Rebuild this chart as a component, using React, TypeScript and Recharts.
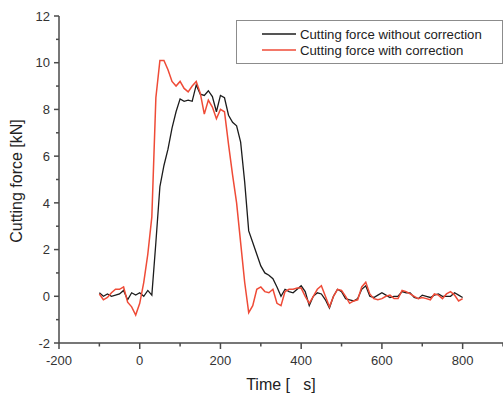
import { LineChart, Line, XAxis, YAxis, Legend, Label } from "recharts";

// time in s, force in kN
const time = [
  -100, -90, -80, -70, -60, -50, -40, -30, -20, -10, 0, 10, 20, 30, 40, 50, 60, 70, 80, 90,
  100, 110, 120, 130, 140, 150, 160, 170, 180, 190, 200, 210, 220, 230, 240, 250, 260, 270, 280, 290,
  300, 310, 320, 330, 340, 350, 360, 370, 380, 390, 400, 410, 420, 430, 440, 450, 460, 470, 480, 490,
  500, 510, 520, 530, 540, 550, 560, 570, 580, 590, 600, 610, 620, 630, 640, 650, 660, 670, 680, 690,
  700, 710, 720, 730, 740, 750, 760, 770, 780, 790, 800,
];

const withoutCorrection = [
  0.15, 0.0, 0.1, 0.0, 0.05, 0.1, 0.25, -0.15, 0.15, 0.05, 0.15, 0.0, 0.25, 0.05, 2.3, 4.7, 5.6, 6.3, 7.2, 7.9,
  8.45, 8.35, 8.4, 8.35, 9.05, 8.65, 8.6, 8.8, 8.55, 7.9, 8.6, 8.5, 7.75, 7.45, 7.3, 6.6, 4.9, 2.8, 2.3, 1.8,
  1.3, 1.0, 0.9, 0.75, 0.4, 0.0, 0.3, 0.2, 0.15, 0.3, 0.45, 0.2, -0.4, 0.0, 0.15, 0.1, -0.15, -0.5, 0.0, 0.3,
  0.2, -0.1, -0.15, -0.2, -0.1, 0.3, 0.45, 0.0, -0.05, 0.05, 0.15, 0.05, -0.05, 0.0, 0.0, 0.2, 0.15, 0.15, -0.05, -0.1,
  0.05, 0.0, -0.05, 0.05, 0.1, 0.0, 0.0, 0.0, 0.15, 0.05, -0.05,
];

const withCorrection = [
  0.1, -0.15, -0.05, 0.15, 0.3, 0.3, 0.4, -0.25, -0.45, -0.8, -0.3, 0.6, 1.8, 3.4, 8.5, 10.1, 10.1, 9.7, 9.2, 9.0,
  9.2, 8.9, 8.75, 9.0, 9.2, 8.7, 7.8, 8.4, 8.1, 7.6, 8.0, 7.9, 6.5, 5.2, 4.0, 2.3, 0.6, -0.7, -0.4, 0.3,
  0.4, 0.2, 0.15, 0.3, -0.3, -0.4, 0.2, 0.3, 0.3, 0.35, 0.35, 0.0, -0.3, 0.0, 0.3, 0.45, 0.0, -0.45, 0.0, 0.3,
  0.25, 0.0, -0.3, -0.2, -0.15, 0.4, 0.6, 0.1, -0.1, -0.15, -0.1, 0.0, 0.05, -0.1, -0.1, 0.25, 0.2, 0.1, 0.0, -0.1,
  -0.05, -0.1, -0.15, 0.1, 0.05, -0.1, 0.1, 0.2, 0.05, -0.2, -0.1,
];

const xTicks = [-200, -100, 0, 100, 200, 300, 400, 500, 600, 700, 800, 900];
const yTicks = [-2, -1, 0, 1, 2, 3, 4, 5, 6, 7, 8, 9, 10, 11, 12];

const seriesNames = ["Cutting force without correction", "Cutting force with correction"];
const seriesColors = ["#1c1c1c", "#ef4b37"];

const data = time.map((t, i) => ({
  t,
  a: withoutCorrection[i],
  b: withCorrection[i],
}));

const AXIS = "#4a4a4a";
const FONT = "'Liberation Sans', Arial, sans-serif";

function XTick(props: any) {
  const { x, y, payload } = props;
  const v = payload.value;
  const major = v % 200 === 0;
  return (
    <g>
      <line x1={x} x2={x} y1={y} y2={y + (major ? 6 : 3.5)} stroke={AXIS} strokeWidth={1.5} />
      {major && v <= 800 && (
        <text x={x} y={y + 22} textAnchor="middle" fontSize={13} fill="#333" fontFamily={FONT}>
          {v}
        </text>
      )}
    </g>
  );
}

function YTick(props: any) {
  const { x, y, payload } = props;
  const v = payload.value;
  const major = v % 2 === 0;
  return (
    <g>
      <line x1={x - (major ? 5 : 3)} x2={x} y1={y} y2={y} stroke={AXIS} strokeWidth={1.5} />
      {major && (
        <text x={x - 9} y={y} dy="0.36em" textAnchor="end" fontSize={13} fill="#333" fontFamily={FONT}>
          {v}
        </text>
      )}
    </g>
  );
}

function LegendBox() {
  return (
    <div
      style={{
        boxSizing: "border-box",
        width: 267,
        height: 44,
        border: "1.5px solid #8c8c8c",
        background: "#fff",
        fontFamily: FONT,
        fontSize: 13.2,
        color: "#222",
        paddingTop: 5,
      }}
    >
      {seriesNames.map((name, i) => (
        <div key={name} style={{ display: "flex", alignItems: "center", height: 16 }}>
          <svg width={63} height={16}>
            <line x1={25} x2={59} y1={8} y2={8} stroke={seriesColors[i]} strokeWidth={1.5} />
          </svg>
          <span>{name}</span>
        </div>
      ))}
    </div>
  );
}

export default function App() {
  return (
    <div style={{ position: "relative", width: 503, height: 394, background: "#fff" }}>
      <style>{`body{margin:0}`}</style>
      <LineChart
        width={503}
        height={394}
        data={data}
        margin={{ top: 16, right: 0, bottom: 0, left: 0 }}
      >
        <XAxis
          dataKey="t"
          type="number"
          domain={[-200, 900]}
          ticks={xTicks}
          interval={0}
          tickSize={0}
          tickMargin={0}
          tickLine={false}
          tick={<XTick />}
          height={51}
          stroke={AXIS}
          strokeWidth={1.5}
          allowDataOverflow
        >
          <Label
            value={"Time [ \u00a0 s]"}
            position="insideBottom"
            offset={4}
            style={{ fontSize: 16, fontFamily: FONT, fill: "#222" }}
          />
        </XAxis>
        <YAxis
          type="number"
          domain={[-2, 12]}
          ticks={yTicks}
          interval={0}
          tickSize={0}
          tickMargin={0}
          tickLine={false}
          tick={<YTick />}
          width={59}
          stroke={AXIS}
          strokeWidth={1.5}
          allowDataOverflow
        >
          <Label
            content={() => (
              <text
                x={16}
                y={181}
                transform="rotate(-90 16 181)"
                textAnchor="middle"
                dominantBaseline="central"
                fontSize={16}
                fontFamily={FONT}
                fill="#222"
              >
                Cutting force [kN]
              </text>
            )}
          />
        </YAxis>
        <Legend
          layout="horizontal"
          verticalAlign="middle"
          align="center"
          wrapperStyle={{ left: 236, top: 20, width: 267, height: 44 }}
          content={() => <LegendBox />}
        />
        <Line
          dataKey="a"
          name={seriesNames[0]}
          stroke={seriesColors[0]}
          strokeWidth={1.3}
          dot={false}
          type="linear"
          isAnimationActive={false}
        />
        <Line
          dataKey="b"
          name={seriesNames[1]}
          stroke={seriesColors[1]}
          strokeWidth={1.5}
          dot={false}
          type="linear"
          isAnimationActive={false}
        />
      </LineChart>
    </div>
  );
}
